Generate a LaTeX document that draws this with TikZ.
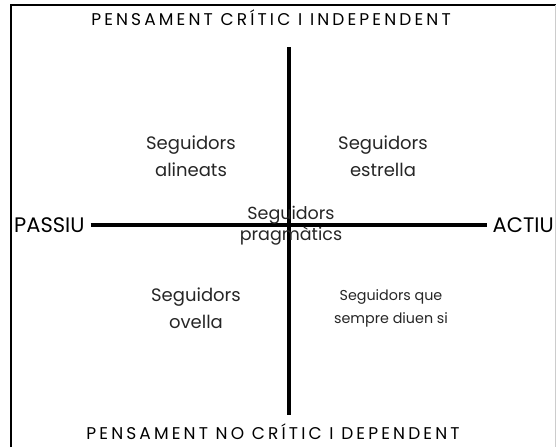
\documentclass[tikz,border=0pt]{standalone}
\usepackage{fontspec}
\setmainfont{Poppins}
\newfontfamily\titolfont{Poppins}[LetterSpace=18.5]
\usepackage{tikz}

\begin{document}
\begin{tikzpicture}[x=1pt, y=-1pt,
    eix/.style={line width=3.4pt},
    titol/.style={font=\titolfont\fontsize{17}{20}\selectfont, inner sep=1pt},
    pol/.style={font=\fontsize{21}{24}\selectfont, inner sep=1pt},
    grup/.style={font=\fontsize{18}{27}\selectfont, align=center, inner sep=1pt, text=black!85}]
        % Marc
        \useasboundingbox (0, 0) rectangle (556, 447);
        \draw[line width=2pt] (11, 447) -- (11, 5) -- (556, 5);
        \draw[gray!40, line width=1pt] (555, 5) -- (555, 447);
        
        % Extrems dels eixos
        \node[titol] (critic) at (271, 18) {PENSAMENT CRÍTIC I INDEPENDENT};
        \node[titol] (nocritic) at (273, 432) {PENSAMENT NO CRÍTIC I DEPENDENT};
        \node[pol, anchor=west] (passiu) at (13, 225) {PASSIU};
        \node[pol, anchor=east] (actiu) at (555, 225) {ACTIU};
        
        % Eixos
        \coordinate (dalt) at (289, 47);
        \coordinate (baix) at (289, 415);
        \draw[eix] (dalt) -- (baix);
        \draw[eix] ([xshift=5pt]passiu.east) -- ([xshift=-5pt]actiu.west);
        
        % Quadrants
        \node[grup] (alineats) at (191, 156) {Seguidors\\alineats};
        \node[grup] (estrella) at (383, 156) {Seguidors\\estrella};
        \node[grup] (ovella) at (196, 308) {Seguidors\\ovella};
        \node[grup, font=\fontsize{14.3}{23}\selectfont] (diuensi) at (391, 308) {Seguidors que\\sempre diuen si};
        \node[grup, font=\fontsize{17.5}{21}\selectfont] (pragmatics) at (291, 226) {Seguidors\\pragmàtics};
    \end{tikzpicture}
\end{document}
